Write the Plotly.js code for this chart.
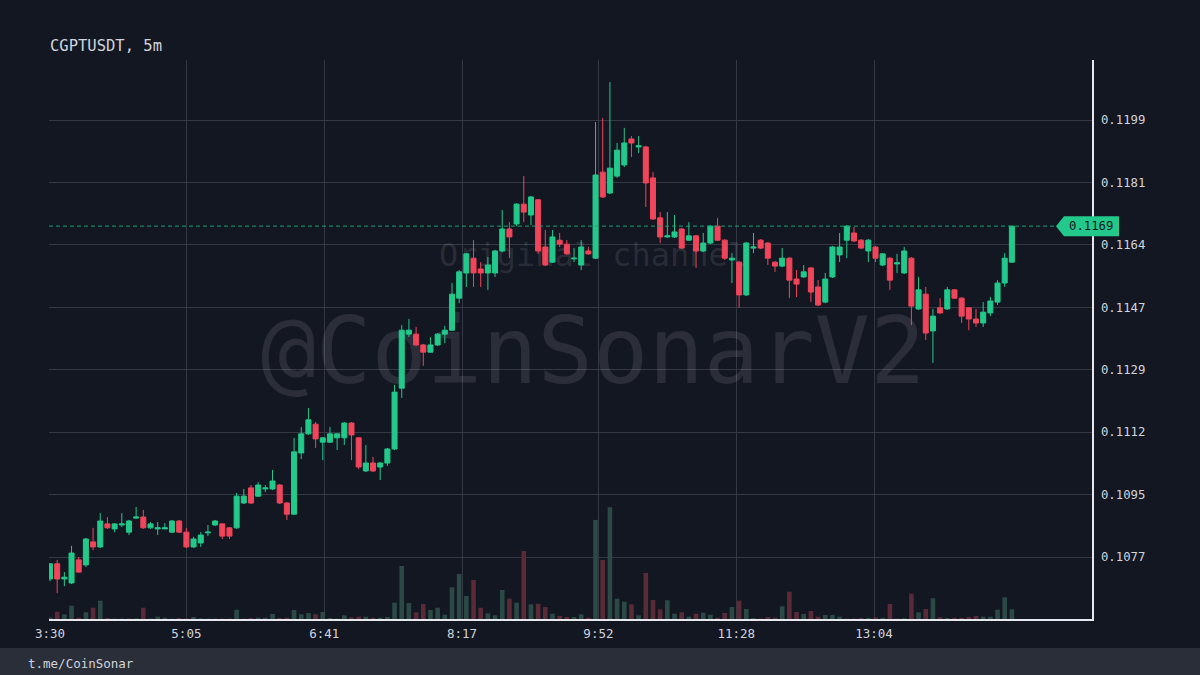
<!DOCTYPE html>
<html><head><meta charset="utf-8">
<script src="https://cdn.plot.ly/plotly-3.0.1.min.js"></script>
<style>html,body{margin:0;padding:0;background:#131722;}#chart{width:1200px;height:675px;}</style>
</head><body><div id="chart"></div>
<script>
const chartTitle = 'CGPTUSDT, 5m';
const firstTime = '3:30';
const intervalMinutes = 5;
const xTickLabels = ['3:30','5:05','6:41','8:17','9:52','11:28','13:04'];
const yTickLabels = ['0.1077','0.1095','0.1112','0.1129','0.1147','0.1164','0.1181','0.1199'];
const watermarkText = '@CoinSonarV2';
const channelText = 'Original channel';
const footerText = 't.me/CoinSonar';

const open = [0.10712,0.10754,0.10712,0.10701,0.10765,0.10751,0.10815,0.10801,0.10865,0.10851,
0.10862,0.10842,0.10881,0.10884,0.10854,0.10851,0.10851,0.10842,0.10873,0.10842,
0.10801,0.10812,0.10840,0.10862,0.10865,0.10854,0.10854,0.10923,0.10965,0.10942,
0.10962,0.10962,0.10973,0.10923,0.10892,0.11062,0.11115,0.11142,0.11092,0.11092,
0.11104,0.11104,0.11145,0.11104,0.11012,0.11034,0.11023,0.11034,0.11073,0.11242,
0.11392,0.11392,0.11362,0.11342,0.11362,0.11392,0.11403,0.11492,0.11562,0.11603,
0.11573,0.11562,0.11562,0.11623,0.11684,0.11698,0.11753,0.11723,0.11765,0.11634,
0.11592,0.11653,0.11642,0.11601,0.11584,0.11623,0.11603,0.11842,0.11784,0.11831,
0.11862,0.11934,0.11912,0.11912,0.11826,0.11715,0.11662,0.11662,0.11684,0.11653,
0.11665,0.11623,0.11645,0.11692,0.11653,0.11598,0.11592,0.11501,0.11631,0.11653,
0.11645,0.11592,0.11581,0.11603,0.11545,0.11551,0.11576,0.11523,0.11481,0.11551,
0.11612,0.11653,0.11673,0.11653,0.11623,0.11634,0.11584,0.11603,0.11587,0.11562,
0.11603,0.11462,0.11503,0.11401,0.11465,0.11462,0.11515,0.11492,0.11465,0.11434,
0.11423,0.11451,0.11481,0.11534,0.11592];
const high = [0.10756,0.10765,0.10731,0.10804,0.10773,0.10826,0.10854,0.10895,0.10884,0.10867,
0.10895,0.10876,0.10912,0.10904,0.10870,0.10870,0.10867,0.10876,0.10876,0.10854,
0.10829,0.10842,0.10862,0.10876,0.10867,0.10856,0.10951,0.10962,0.10973,0.10981,
0.10973,0.11015,0.10976,0.10926,0.11104,0.11134,0.11187,0.11148,0.11106,0.11134,
0.11117,0.11148,0.11148,0.11106,0.11084,0.11051,0.11037,0.11076,0.11251,0.11417,
0.11434,0.11412,0.11365,0.11384,0.11395,0.11415,0.11534,0.11570,0.11617,0.11653,
0.11592,0.11606,0.11626,0.11737,0.11703,0.11756,0.11831,0.11776,0.11767,0.11681,
0.11681,0.11673,0.11653,0.11631,0.11653,0.11634,0.11981,0.11992,0.12092,0.11923,
0.11965,0.11942,0.11942,0.11915,0.11842,0.11731,0.11731,0.11723,0.11687,0.11703,
0.11667,0.11673,0.11695,0.11715,0.11656,0.11617,0.11595,0.11648,0.11673,0.11656,
0.11648,0.11595,0.11631,0.11606,0.11570,0.11584,0.11578,0.11542,0.11562,0.11637,
0.11673,0.11695,0.11690,0.11656,0.11656,0.11637,0.11617,0.11606,0.11615,0.11634,
0.11606,0.11551,0.11523,0.11462,0.11492,0.11523,0.11517,0.11495,0.11467,0.11462,
0.11481,0.11495,0.11542,0.11617,0.11692];
const low = [0.10706,0.10673,0.10692,0.10698,0.10729,0.10745,0.10792,0.10798,0.10851,0.10842,
0.10856,0.10834,0.10879,0.10851,0.10851,0.10834,0.10851,0.10840,0.10840,0.10798,
0.10798,0.10801,0.10831,0.10859,0.10823,0.10823,0.10851,0.10920,0.10920,0.10940,
0.10954,0.10959,0.10920,0.10876,0.10890,0.11045,0.11112,0.11076,0.11042,0.11090,
0.11070,0.11084,0.11042,0.11017,0.11009,0.11009,0.10987,0.11026,0.11070,0.11215,
0.11384,0.11359,0.11304,0.11340,0.11359,0.11367,0.11401,0.11478,0.11523,0.11523,
0.11523,0.11515,0.11551,0.11620,0.11603,0.11692,0.11703,0.11695,0.11615,0.11581,
0.11590,0.11634,0.11612,0.11592,0.11570,0.11612,0.11601,0.11770,0.11781,0.11826,
0.11856,0.11884,0.11895,0.11745,0.11709,0.11645,0.11659,0.11659,0.11628,0.11651,
0.11576,0.11620,0.11642,0.11651,0.11598,0.11534,0.11465,0.11498,0.11617,0.11628,
0.11584,0.11565,0.11578,0.11492,0.11495,0.11548,0.11481,0.11470,0.11478,0.11548,
0.11592,0.11603,0.11648,0.11628,0.11592,0.11592,0.11581,0.11515,0.11562,0.11559,
0.11417,0.11459,0.11376,0.11312,0.11448,0.11459,0.11490,0.11423,0.11403,0.11412,
0.11412,0.11442,0.11473,0.11523,0.11590];
const close = [0.10754,0.10712,0.10717,0.10784,0.10731,0.10823,0.10801,0.10873,0.10854,0.10865,
0.10865,0.10873,0.10884,0.10854,0.10865,0.10854,0.10854,0.10873,0.10842,0.10801,
0.10823,0.10834,0.10842,0.10873,0.10831,0.10831,0.10942,0.10942,0.10923,0.10973,
0.10965,0.10984,0.10923,0.10892,0.11065,0.11115,0.11154,0.11101,0.11104,0.11115,
0.11115,0.11145,0.11112,0.11023,0.11034,0.11012,0.11034,0.11073,0.11231,0.11403,
0.11403,0.11362,0.11342,0.11362,0.11392,0.11403,0.11503,0.11565,0.11615,0.11562,
0.11562,0.11584,0.11623,0.11684,0.11662,0.11753,0.11731,0.11773,0.11623,0.11584,
0.11662,0.11642,0.11615,0.11603,0.11634,0.11615,0.11834,0.11773,0.11853,0.11903,
0.11923,0.11923,0.11915,0.11812,0.11712,0.11662,0.11665,0.11676,0.11631,0.11665,
0.11623,0.11645,0.11692,0.11653,0.11603,0.11603,0.11501,0.11645,0.11634,0.11631,
0.11603,0.11581,0.11603,0.11542,0.11531,0.11565,0.11509,0.11473,0.11545,0.11634,
0.11634,0.11692,0.11651,0.11631,0.11653,0.11603,0.11615,0.11542,0.11590,0.11623,
0.11470,0.11515,0.11395,0.11442,0.11451,0.11515,0.11492,0.11442,0.11434,0.11423,
0.11453,0.11484,0.11534,0.11603,0.11692];
const volume = [1.5,7.3,4.7,13.3,1.3,6.7,11.3,18.3,1,0.4,
0.4,0.4,0.6,11.3,0.4,2.3,1.3,0.4,1,0.6,
2,0.6,0.4,0.4,0.4,0.4,9.3,0.4,1,1.3,
1.3,5,1,1.3,9,4.7,6,4.7,7,1,
0.4,3.7,1.7,2.3,2.3,1.3,1.3,2,16.3,53,
16,6.7,15,9,11.3,4.3,31.7,45,23,39,
11.3,5.7,3.7,29,20.3,16.3,68,14.7,15.3,12,
5.3,3,2,2,4.7,1.3,99,59,111.7,20.3,
17.3,14.7,3.7,46,19,9.7,18.7,5.3,6.7,2.3,
5.3,6.3,4.3,1.3,6,12,18.3,10,1,0.4,
2,1.3,12.7,27.3,7,5,8,2.3,4,4,
2.3,0.4,0.4,1,1,1.7,1.3,15,0.4,0.7,
25.3,6.7,10,20.7,1.7,1,1.3,1.3,2,3,
2.3,2.3,9.3,21.7,9.7];

// ---- geometry & styling ----
const W = 1200, H = 675;
const M = {l: 49, r: 108, t: 60, b: 56};
const pw = W - M.l - M.r, ph = H - M.t - M.b;
const pX = x => (x - M.l) / pw;
const pY = y => (H - M.b - y) / ph;
const FONT = 'DejaVu Sans Mono';
const TXT = '#d1d4dc';
const BG = '#131722';
const GRID = '#343844';
const UP = '#22c98b', DOWN = '#f0455a';
const UPV = '#2b4a46', DOWNV = '#5a2a37';

const toMin = s => { const p = s.split(':').map(Number); return p[0] * 60 + p[1]; };
const idx = close.map((_, i) => i);
const xTickVals = xTickLabels.map(s => (toMin(s) - toMin(firstTime)) / intervalMinutes);
const yTick0 = 0.10773, yStep = 0.001734;
const yTickVals = yTickLabels.map((_, k) => yTick0 + k * yStep);
const yRange = [0.106008, 0.1215345];
const last = close[close.length - 1];
const lastPY = (last - yRange[0]) / (yRange[1] - yRange[0]);
const volColors = close.map((c, i) => c >= open[i] ? UPV : DOWNV);
const vmax = Math.max(...volume);

const traces = [
  {type: 'scatter', mode: 'text', xaxis: 'x', yaxis: 'y',
   x: [pX(593), pX(593)], y: [pY(360), pY(258)],
   text: [watermarkText, channelText],
   textfont: {family: FONT, size: [92, 32], color: 'rgba(255,255,255,0.10)'},
   hoverinfo: 'skip', showlegend: false},
  {type: 'bar', xaxis: 'x2', yaxis: 'y2', x: idx, y: volume,
   marker: {color: volColors, line: {width: 0}}, width: 0.64,
   hoverinfo: 'skip', showlegend: false},
  {type: 'candlestick', xaxis: 'x2', yaxis: 'y3', x: idx,
   open: open, high: high, low: low, close: close,
   increasing: {line: {color: UP, width: 1}, fillcolor: UP},
   decreasing: {line: {color: DOWN, width: 1}, fillcolor: DOWN},
   whiskerwidth: 0, hoverinfo: 'skip', showlegend: false}
];

const layout = {
  width: W, height: H,
  margin: M,
  paper_bgcolor: BG, plot_bgcolor: BG,
  showlegend: false,
  boxgap: 0.3, boxgroupgap: 0,
  title: {text: chartTitle, xref: 'container', x: 50 / W, xanchor: 'left',
          yref: 'container', y: 1 - 46 / H, yanchor: 'middle',
          font: {family: FONT, size: 15.5, color: TXT}},
  xaxis: {domain: [0, 1], range: [0, 1], visible: false, fixedrange: true},
  yaxis: {domain: [0, 1], range: [0, 1], visible: false, fixedrange: true},
  xaxis2: {overlaying: 'x', anchor: 'y3', side: 'bottom',
           range: [-0.14, 145.16], tickmode: 'array', tickvals: xTickVals, ticktext: xTickLabels,
           showgrid: true, gridcolor: GRID, gridwidth: 1, zeroline: false,
           showline: true, linecolor: '#e6e8ee', linewidth: 1.5, ticks: '',
           ticklabelstandoff: 2,
           tickfont: {family: FONT, size: 12.5, color: TXT},
           rangeslider: {visible: false}, fixedrange: true},
  yaxis2: {overlaying: 'y', anchor: 'x2', range: [0, vmax * 5.0], visible: false, fixedrange: true},
  yaxis3: {overlaying: 'y', anchor: 'x2', side: 'right', range: yRange,
           tickmode: 'array', tickvals: yTickVals, ticktext: yTickLabels,
           showgrid: true, gridcolor: GRID, gridwidth: 1, zeroline: false,
           showline: true, linecolor: '#e6e8ee', linewidth: 1.5, ticks: '',
           ticklabelstandoff: 5,
           tickfont: {family: FONT, size: 12.3, color: TXT}, fixedrange: true},
  shapes: [
    {type: 'rect', xref: 'paper', yref: 'paper', x0: pX(0), x1: pX(W), y0: pY(648), y1: pY(H),
     fillcolor: '#2a2e39', line: {width: 0}, layer: 'below'},
    {type: 'line', xref: 'paper', yref: 'y3', x0: 0, x1: pX(1056), y0: last, y1: last,
     line: {color: '#1f9e73', width: 1, dash: '4px,3px'}},
    {type: 'path', xref: 'paper', yref: 'paper',
     path: 'M' + pX(1056) + ',' + lastPY +
           ' L' + pX(1064) + ',' + (lastPY + 10 / ph) +
           ' L' + pX(1119) + ',' + (lastPY + 10 / ph) +
           ' L' + pX(1119) + ',' + (lastPY - 10 / ph) +
           ' L' + pX(1064) + ',' + (lastPY - 10 / ph) + ' Z',
     fillcolor: UP, line: {width: 0}, layer: 'above'}
  ],
  annotations: [
    {xref: 'paper', yref: 'y3', x: pX(1091), y: last, text: last.toFixed(4),
     showarrow: false, xanchor: 'center', yanchor: 'middle',
     font: {family: FONT, size: 12.3, color: '#131722'}},
    {xref: 'paper', yref: 'paper', x: pX(26), y: pY(663), text: footerText,
     showarrow: false, xanchor: 'left', yanchor: 'middle',
     font: {family: FONT, size: 12.5, color: TXT}}
  ]
};

Plotly.newPlot('chart', traces, layout, {staticPlot: true, displayModeBar: false});
</script>
</body></html>
